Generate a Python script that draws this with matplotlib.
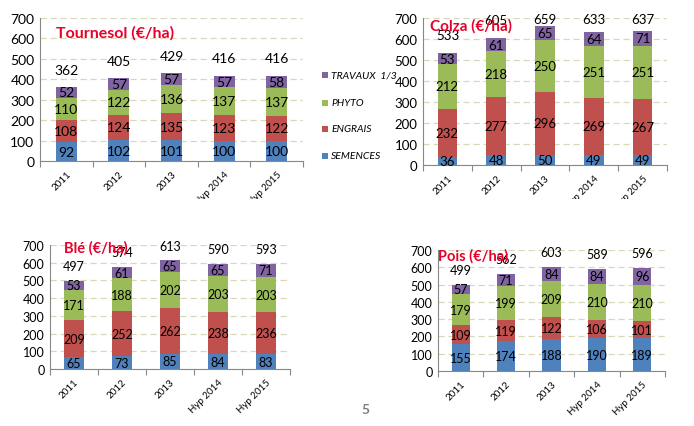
import matplotlib
matplotlib.use("Agg")
import matplotlib.pyplot as plt
from matplotlib.patches import Rectangle

plt.rcParams['font.family'] = ['Lato', 'DejaVu Sans']

years = ['2011', '2012', '2013', 'Hyp 2014', 'Hyp 2015']
series_names = ['SEMENCES', 'ENGRAIS', 'PHYTO', 'TRAVAUX  1/3']
colors = ['#4F81BD', '#C0504D', '#9BBB59', '#8064A2']

# Tournesol
tournesol_semences = [92, 102, 101, 100, 100]
tournesol_engrais = [108, 124, 135, 123, 122]
tournesol_phyto = [110, 122, 136, 137, 137]
tournesol_travaux = [52, 57, 57, 57, 58]
tournesol_totals = [362, 405, 429, 416, 416]

# Colza
colza_semences = [36, 48, 50, 49, 49]
colza_engrais = [232, 277, 296, 269, 267]
colza_phyto = [212, 218, 250, 251, 251]
colza_travaux = [53, 61, 65, 64, 71]
colza_totals = [533, 605, 659, 633, 637]

# Ble
ble_semences = [65, 73, 85, 84, 83]
ble_engrais = [209, 252, 262, 238, 236]
ble_phyto = [171, 188, 202, 203, 203]
ble_travaux = [53, 61, 65, 65, 71]
ble_totals = [497, 574, 613, 590, 593]

# Pois
pois_semences = [155, 174, 188, 190, 189]
pois_engrais = [109, 119, 122, 106, 101]
pois_phyto = [179, 199, 209, 210, 210]
pois_travaux = [57, 71, 84, 84, 96]
pois_totals = [499, 562, 603, 589, 596]

W, H = 694, 427
fig = plt.figure(figsize=(W / 100, H / 100), dpi=100)


def px_axes(left, top, right, bottom):
    return [left / W, 1 - bottom / H, (right - left) / W, (bottom - top) / H]


def draw_chart(ax, title, stacks, totals, fs, tfs, title_pos):
    x = range(len(years))
    bottom = [0] * len(years)
    for vals, c in zip(stacks, colors):
        ax.bar(x, vals, bottom=bottom, width=0.4, color=c, zorder=2)
        for i, v in enumerate(vals):
            ax.text(i, bottom[i] + v / 2, str(v), ha='center', va='center',
                    fontsize=fs, color='black', zorder=3)
        bottom = [b + v for b, v in zip(bottom, vals)]
    for i, t in enumerate(totals):
        ax.text(i, min(bottom[i] + 85, 695), str(t), ha='center', va='center',
                fontsize=fs, color='black', zorder=3)
    ax.set_ylim(0, 700)
    ax.set_xlim(-0.5, len(years) - 0.5)
    ax.set_yticks(range(0, 701, 100))
    ax.tick_params(axis='y', labelsize=fs, length=0, pad=4)
    ax.set_xticks([i - 0.5 for i in range(len(years) + 1)])
    ax.set_xticklabels([])
    ax.set_xticks(list(x), minor=True)
    ax.set_xticklabels(years, minor=True, rotation=45, ha='right',
                       rotation_mode='anchor', fontsize=7)
    ax.tick_params(axis='x', which='major', length=4, color='#888888')
    ax.tick_params(axis='x', which='minor', length=0, pad=6)
    ax.grid(axis='y', linestyle=(0, (5, 3)), color='#D8D8B8', linewidth=0.9, zorder=0)
    for s in ['top', 'right']:
        ax.spines[s].set_visible(False)
    for s in ['left', 'bottom']:
        ax.spines[s].set_color('#888888')
    ax.text(title_pos[0], title_pos[1], title, transform=ax.transAxes,
            color='#E8002A', fontsize=tfs, fontweight='bold', ha='left',
            va='center', zorder=5)


ax1 = fig.add_axes(px_axes(40, 19, 303, 162))
draw_chart(ax1, 'Tournesol (€/ha)',
           [tournesol_semences, tournesol_engrais, tournesol_phyto, tournesol_travaux],
           tournesol_totals, 10, 11.5, (0.06, 0.9))

ax2 = fig.add_axes(px_axes(423, 19, 667, 166))
draw_chart(ax2, 'Colza (€/ha)',
           [colza_semences, colza_engrais, colza_phyto, colza_travaux],
           colza_totals, 9.5, 11, (0.03, 0.95))

# white cover hiding the bottom of the upper x labels
fig.patches.append(Rectangle((0, 0), 1, (H - 200) / H, transform=fig.transFigure,
                             facecolor='white', edgecolor='none', zorder=1))

ax3 = fig.add_axes(px_axes(50, 246, 290, 370))
ax3.set_zorder(2)
draw_chart(ax3, 'Blé (€/ha)',
           [ble_semences, ble_engrais, ble_phyto, ble_travaux],
           ble_totals, 9, 10.5, (0.06, 0.98))

ax4 = fig.add_axes(px_axes(438, 251, 665, 372))
ax4.set_zorder(2)
draw_chart(ax4, 'Pois (€/ha)',
           [pois_semences, pois_engrais, pois_phyto, pois_travaux],
           pois_totals, 9, 10.5, (0.0, 0.96))

# legend (drawn manually like the slide)
legend_y = [157, 130, 104, 76]
for name, c, ly in zip(series_names, colors, legend_y):
    fig.patches.append(Rectangle((322 / W, 1 - (ly + 3) / H), 6 / W, 6 / H,
                                 transform=fig.transFigure, facecolor=c,
                                 edgecolor='none', zorder=3))
    fig.text(331 / W, 1 - ly / H, name, fontsize=7.5, style='italic',
             va='center', ha='left', zorder=3)

fig.text(365 / W, 1 - 410 / H, '5', fontsize=10, color='#7F7F7F',
         fontweight='bold', ha='center', va='center')

fig.savefig('out.png', dpi=100)
